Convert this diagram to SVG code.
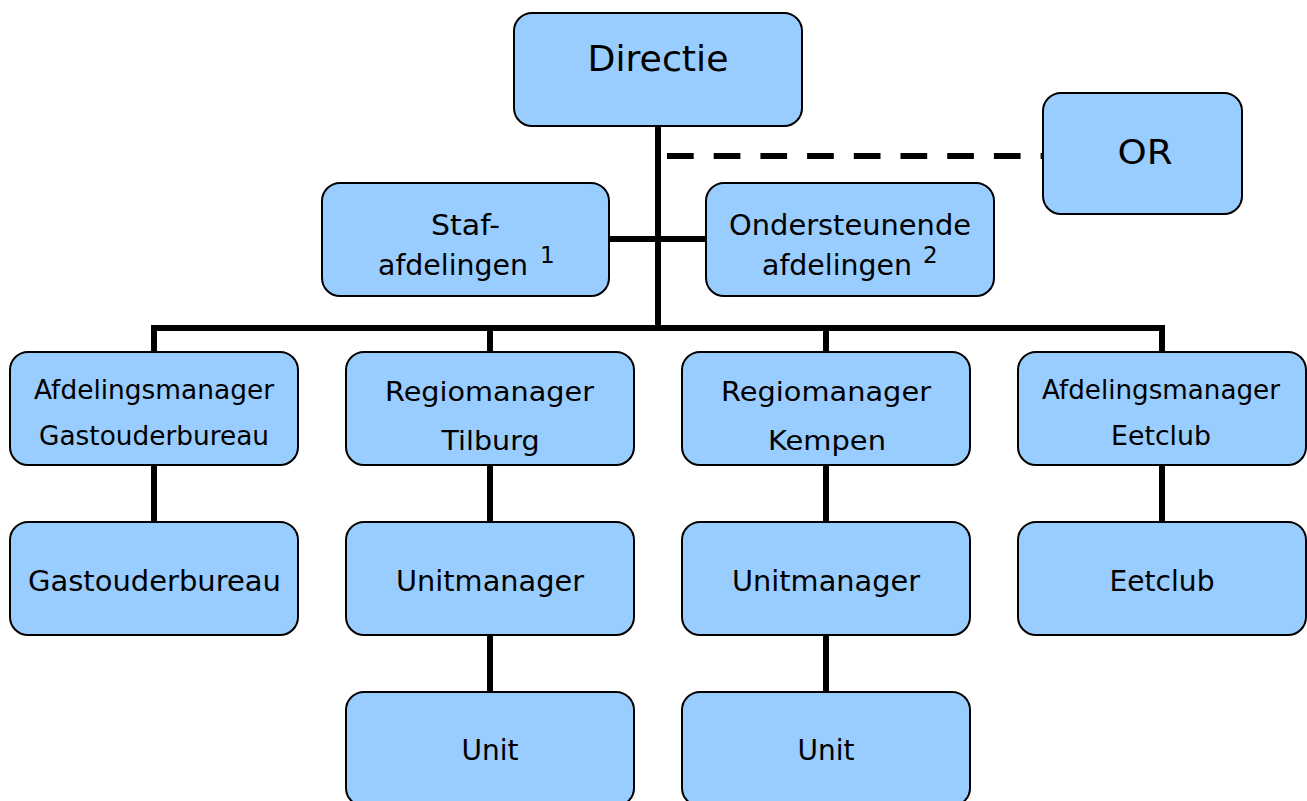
<svg xmlns="http://www.w3.org/2000/svg" width="1307" height="801" viewBox="0 0 1307 801">
<style>
.box{fill:#99CCFF;stroke:#000;stroke-width:2}
.t{font-family:"DejaVu Sans","Liberation Sans",sans-serif;fill:#000;text-anchor:middle}
.s{font-family:"DejaVu Sans","Liberation Sans",sans-serif;fill:#000;font-size:23px}
.c{stroke:#000;stroke-width:6;fill:none}
</style>
<rect width="1307" height="801" fill="#fff"/>
<g id="connectors">
<line class="c" x1="658" y1="126" x2="658" y2="331"/>
<line class="c" x1="151" y1="328" x2="1165" y2="328"/>
<line class="c" x1="609" y1="239" x2="706" y2="239"/>
<line class="c" x1="667" y1="156" x2="1043" y2="156" stroke-dasharray="26.7 20"/>
<line class="c" x1="154" y1="328" x2="154" y2="352"/>
<line class="c" x1="490" y1="328" x2="490" y2="352"/>
<line class="c" x1="826" y1="328" x2="826" y2="352"/>
<line class="c" x1="1162" y1="328" x2="1162" y2="352"/>
<line class="c" x1="154" y1="465" x2="154" y2="522"/>
<line class="c" x1="490" y1="465" x2="490" y2="522"/>
<line class="c" x1="826" y1="465" x2="826" y2="522"/>
<line class="c" x1="1162" y1="465" x2="1162" y2="522"/>
<line class="c" x1="490" y1="635" x2="490" y2="692"/>
<line class="c" x1="826" y1="635" x2="826" y2="692"/>
</g>
<g id="directie">
<rect class="box" x="514" y="13" width="288" height="113" rx="18"/>
<text class="t" x="658" y="71" font-size="36" textLength="141" lengthAdjust="spacingAndGlyphs">Directie</text>
</g>
<g id="or">
<rect class="box" x="1043" y="93" width="199" height="121" rx="18"/>
<text class="t" x="1145" y="164" font-size="33" textLength="55" lengthAdjust="spacingAndGlyphs">OR</text>
</g>
<g id="staf">
<rect class="box" x="322" y="183" width="287" height="113" rx="18"/>
<text class="t" x="465.5" y="235" font-size="29" textLength="69" lengthAdjust="spacingAndGlyphs">Staf-</text>
<text class="t" x="453" y="275" font-size="29" textLength="150" lengthAdjust="spacingAndGlyphs">afdelingen</text>
<text class="s" x="540" y="263">1</text>
</g>
<g id="ondersteunende">
<rect class="box" x="706" y="183" width="288" height="113" rx="18"/>
<text class="t" x="850" y="235" font-size="29" textLength="242" lengthAdjust="spacingAndGlyphs">Ondersteunende</text>
<text class="t" x="837" y="275" font-size="29" textLength="150" lengthAdjust="spacingAndGlyphs">afdelingen</text>
<text class="s" x="923" y="263">2</text>
</g>
<g id="am-gastouderbureau">
<rect class="box" x="10" y="352" width="288" height="113" rx="18"/>
<text class="t" x="154" y="399" font-size="26" textLength="240" lengthAdjust="spacingAndGlyphs">Afdelingsmanager</text>
<text class="t" x="154" y="445" font-size="26" textLength="230" lengthAdjust="spacingAndGlyphs">Gastouderbureau</text>
</g>
<g id="rm-tilburg">
<rect class="box" x="346" y="352" width="288" height="113" rx="18"/>
<text class="t" x="489.5" y="401" font-size="26" textLength="209" lengthAdjust="spacingAndGlyphs">Regiomanager</text>
<text class="t" x="490.5" y="450" font-size="26" textLength="98" lengthAdjust="spacingAndGlyphs">Tilburg</text>
</g>
<g id="rm-kempen">
<rect class="box" x="682" y="352" width="288" height="113" rx="18"/>
<text class="t" x="826" y="401" font-size="26" textLength="210" lengthAdjust="spacingAndGlyphs">Regiomanager</text>
<text class="t" x="827" y="450" font-size="26" textLength="118" lengthAdjust="spacingAndGlyphs">Kempen</text>
</g>
<g id="am-eetclub">
<rect class="box" x="1018" y="352" width="288" height="113" rx="18"/>
<text class="t" x="1161" y="399" font-size="26" textLength="238" lengthAdjust="spacingAndGlyphs">Afdelingsmanager</text>
<text class="t" x="1161" y="445" font-size="26" textLength="100" lengthAdjust="spacingAndGlyphs">Eetclub</text>
</g>
<g id="gastouderbureau">
<rect class="box" x="10" y="522" width="288" height="113" rx="18"/>
<text class="t" x="154.5" y="591" font-size="29" textLength="253" lengthAdjust="spacingAndGlyphs">Gastouderbureau</text>
</g>
<g id="unitmanager-tilburg">
<rect class="box" x="346" y="522" width="288" height="113" rx="18"/>
<text class="t" x="490" y="591" font-size="29" textLength="188" lengthAdjust="spacingAndGlyphs">Unitmanager</text>
</g>
<g id="unitmanager-kempen">
<rect class="box" x="682" y="522" width="288" height="113" rx="18"/>
<text class="t" x="826" y="591" font-size="29" textLength="188" lengthAdjust="spacingAndGlyphs">Unitmanager</text>
</g>
<g id="eetclub">
<rect class="box" x="1018" y="522" width="288" height="113" rx="18"/>
<text class="t" x="1162" y="591" font-size="29" textLength="105" lengthAdjust="spacingAndGlyphs">Eetclub</text>
</g>
<g id="unit-tilburg">
<rect class="box" x="346" y="692" width="288" height="114" rx="18"/>
<text class="t" x="490" y="760" font-size="29" textLength="57" lengthAdjust="spacingAndGlyphs">Unit</text>
</g>
<g id="unit-kempen">
<rect class="box" x="682" y="692" width="288" height="114" rx="18"/>
<text class="t" x="826" y="760" font-size="29" textLength="57" lengthAdjust="spacingAndGlyphs">Unit</text>
</g>
</svg>
